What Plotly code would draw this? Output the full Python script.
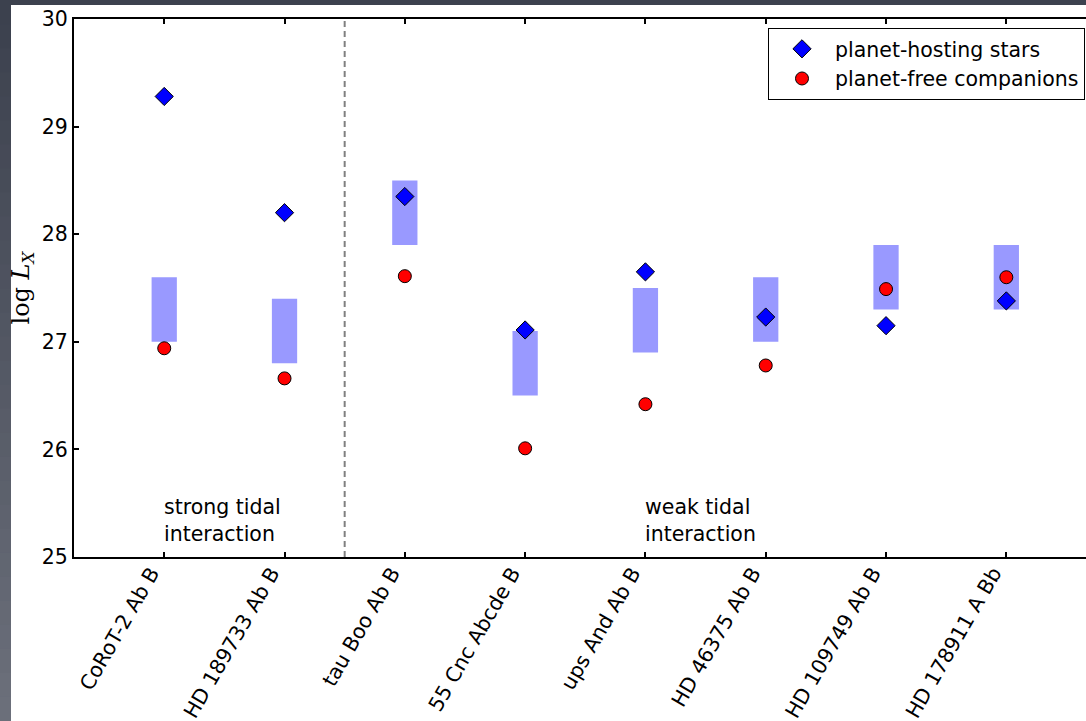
import plotly.graph_objects as go

# --- data -------------------------------------------------------------
systems = ["CoRoT-2 Ab B", "HD 189733 Ab B", "tau Boo Ab B", "55 Cnc Abcde B",
           "ups And Ab B", "HD 46375 Ab B", "HD 109749 Ab B", "HD 178911 A Bb"]
host_logLx = [29.28, 28.20, 28.35, 27.11, 27.65, 27.23, 27.15, 27.38]
companion_logLx = [26.94, 26.66, 27.61, 26.01, 26.42, 26.78, 27.49, 27.60]
expected_low = [27.0, 26.8, 27.9, 26.5, 26.9, 27.0, 27.3, 27.3]
expected_high = [27.6, 27.4, 28.5, 27.1, 27.5, 27.6, 27.9, 27.9]
y_ticks = [25, 26, 27, 28, 29, 30]

FONT = "DejaVu Sans"
FS = 20.5
W, H = 1086, 721
L, T, B = 74, 19, 164
plot_w = W - L
plot_h = H - T - B
unit_px = 120.3  # pixels per category step

fig = go.Figure()

# expected activity range for each system
fig.add_trace(go.Bar(
    x=systems,
    y=[h - l for h, l in zip(expected_high, expected_low)],
    base=expected_low,
    width=0.21,
    marker=dict(color="#9999ff", line=dict(width=0)),
    showlegend=False,
    hoverinfo="skip",
))

fig.add_trace(go.Scatter(
    x=systems, y=host_logLx, mode="markers", name="planet-hosting stars",
    marker=dict(symbol="diamond", size=14, color="#0000ff",
                line=dict(color="black", width=1)),
))
fig.add_trace(go.Scatter(
    x=systems, y=companion_logLx, mode="markers", name="planet-free companions",
    marker=dict(symbol="circle", size=13, color="#ff0000",
                line=dict(color="black", width=1)),
))


def paper_x(px):
    return (px - L) / plot_w


def paper_y(py):
    return (H - B - py) / plot_h


shapes = []
# dark frame strips around the page
n_steps = 30
top_rgb = (59, 64, 77)
bot_rgb = (108, 112, 123)
for i in range(n_steps):
    f = (i + 0.5) / n_steps
    c = tuple(int(round(a + (b - a) * f)) for a, b in zip(top_rgb, bot_rgb))
    shapes.append(dict(
        type="rect", xref="paper", yref="paper", layer="below",
        x0=paper_x(0), x1=paper_x(11),
        y0=paper_y(H * (i + 1) / n_steps + 1), y1=paper_y(H * i / n_steps),
        fillcolor="rgb(%d,%d,%d)" % c, line=dict(width=0),
    ))
shapes.append(dict(
    type="rect", xref="paper", yref="paper", layer="below",
    x0=paper_x(0), x1=paper_x(W), y0=paper_y(5), y1=paper_y(0),
    fillcolor="rgb(60,65,78)", line=dict(width=0),
))
# divider between strong and weak tidal interaction
shapes.append(dict(
    type="line", xref="x", yref="paper", x0=1.5, x1=1.5, y0=0, y1=1,
    line=dict(color="#808080", width=2, dash="6px,4px"),
))

# region labels
region_labels = [(0, "strong tidal<br>interaction"),
                 (4, "weak tidal<br>interaction")]
annotations = [
    dict(x=xpos, y=25.082, xref="x", yref="y", xanchor="left", yanchor="bottom",
         text=txt, showarrow=False, align="left", xshift=-2,
         font=dict(family=FONT, size=FS, color="black"))
    for xpos, txt in region_labels
]

x_right = -0.75 + plot_w / unit_px

fig.update_layout(
    width=W, height=H,
    margin=dict(l=L, r=0, t=T, b=B, pad=0),
    paper_bgcolor="white", plot_bgcolor="white",
    font=dict(family=FONT, size=FS, color="black"),
    shapes=shapes,
    annotations=annotations,
    showlegend=True,
    legend=dict(
        x=paper_x(1085), y=paper_y(28), xanchor="right", yanchor="top",
        bgcolor="white", bordercolor="black", borderwidth=1,
        font=dict(family=FONT, size=FS, color="black"),
        itemwidth=56, tracegroupgap=0,
    ),
    xaxis=dict(
        type="category", range=[-0.75, x_right], automargin=False,
        showline=True, linecolor="black", linewidth=2, mirror="ticks",
        ticks="inside", ticklen=5, tickwidth=1.5, tickcolor="black",
        tickangle=-60, showgrid=False, zeroline=False,
        ticklabelshift=-13, ticklabelstandoff=-6,
        tickfont=dict(family=FONT, size=FS, color="black"),
    ),
    yaxis=dict(
        range=[25, 30], tickvals=y_ticks, automargin=False,
        showline=True, linecolor="black", linewidth=2, mirror=False,
        ticks="inside", ticklen=5, tickwidth=1.5, tickcolor="black",
        showgrid=False, zeroline=False,
        tickfont=dict(family=FONT, size=FS, color="black"),
        title=dict(text="log <i>L</i><sub><i>X</i></sub>",
                   font=dict(family="DejaVu Serif", size=24, color="black"),
                   standoff=5),
    ),
)

fig.write_html("out.html")
